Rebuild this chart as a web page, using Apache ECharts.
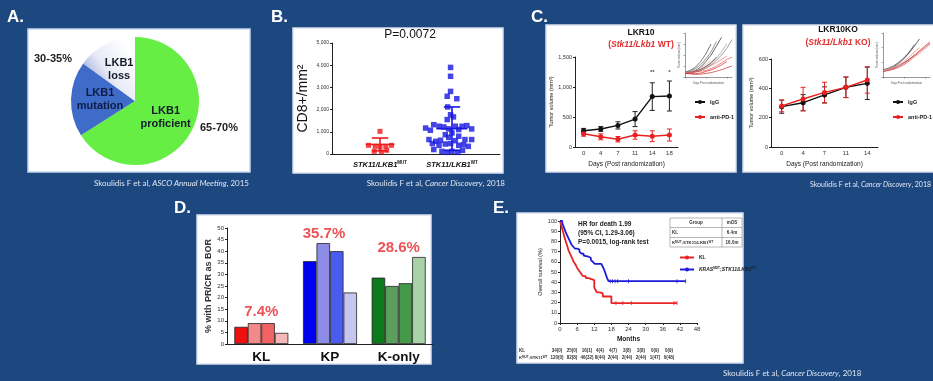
<!DOCTYPE html>
<html><head><meta charset="utf-8">
<script src="https://cdn.jsdelivr.net/npm/echarts@6/dist/echarts.min.js"></script>
<style>html,body{margin:0;padding:0;background:#1c477f;}#c{width:933px;height:381px;}</style>
</head><body><div id="c"></div>
<script>
// ---------- Panel A: pie ----------
const pieNames = ['LKB1\nproficient', 'LKB1\nmutation', 'LKB1\nloss'];
const pieValues = [66, 19, 15];

// ---------- Panel B: CD8+ scatter ----------
const bGroups = ['STK11/LKB1 MUT', 'STK11/LKB1 WT'];
const bGroupPos = [1, 2.5];
const bMutValues = [1020, 390, 345, 315, 345, 390, 120, 90, 165];
const bMutOffsets = [0, -0.24, -0.10, 0, 0.12, 0.24, -0.12, 0.03, 0.14];
const bWtValues = [3900, 3500, 2820, 2600, 2490, 2120, 1770, 1550, 1670, 1170, 1320, 1250, 1220, 1250, 1250, 1280, 1130, 1070, 1130, 1100, 950, 870, 750, 800, 650, 570, 620, 600, 650, 650, 470, 390, 450, 470, 390, 420, 345, 200, 120, 75, 120, 75, 165];
const bWtOffsets = [-0.03, -0.03, -0.03, -0.10, 0.10, -0.09, -0.03, -0.10, 0.03, -0.55, -0.38, -0.27, -0.17, 0.07, 0.21, 0.31, 0.41, -0.45, -0.07, 0.14, 0, -0.14, -0.07, 0.14, -0.48, -0.34, -0.24, 0.07, 0.27, 0.41, -0.41, -0.27, -0.14, -0.03, 0.14, 0.24, 0.34, -0.38, -0.21, -0.10, 0, 0.12, 0.22];
const bMeans = [430, 1140];
const bSDs = [290, 980];

// ---------- Panel C: tumour volume ----------
const cDaysWT = ['0', '4', '7', '11', '14', '18'];
const cIgGWT = [270, 300, 360, 465, 840, 850];
const cIgGWTErr = [40, 40, 60, 125, 230, 250];
const cPD1WT = [220, 170, 130, 200, 180, 200];
const cPD1WTErr = [40, 50, 45, 70, 90, 100];
const cSigWT = [[4, 1250, '**'], [5, 1250, '*']];
const cDaysKO = ['0', '4', '7', '11', '14'];
const cIgGKO = [275, 302, 355, 407, 434];
const cIgGKOErr = [45, 55, 55, 70, 110];
const cPD1KO = [280, 327, 372, 407, 457];
const cPD1KOErr = [40, 80, 70, 70, 90];
const insetDays = ['0', '3', '6', '9', '12', '15', '18', '21', '24', '27'];
const insetWTIgG = [
  [150, 200, 300, 450, 700, 1000, 1400, 1800],
  [200, 260, 380, 560, 820, 1150, 1600],
  [180, 220, 260, 330, 450, 620, 850, 1150, 1500],
  [220, 300, 450, 700, 1050, 1500],
  [160, 190, 230, 300, 400, 550, 750, 1000, 1300, 1700],
  [200, 230, 280, 350, 480, 650, 900]
];
const insetWTPD1 = [
  [180, 170, 150, 180, 250, 320, 420, 550, 700],
  [200, 190, 220, 300, 400, 520, 650, 800, 950],
  [170, 140, 120, 130, 160, 200, 260, 330, 420, 500],
  [210, 230, 300, 420, 580, 760],
  [190, 200, 240, 260, 300, 380, 500, 640, 800, 900]
];
const insetKOIgG = [
  [200, 260, 340, 460, 620, 820, 1050, 1300],
  [220, 250, 300, 380, 480, 600, 750],
  [180, 230, 290, 370, 470, 590],
  [250, 300, 380, 500, 650, 850, 1100]
];
const insetKOPD1 = [
  [200, 240, 300, 380, 480, 600, 740, 900, 1050, 1200],
  [230, 260, 320, 400, 520, 680, 850, 1000],
  [190, 220, 260, 330, 420, 540, 700, 860, 1000, 1150],
  [210, 250, 310, 380, 460, 560, 680, 800, 950, 1100]
];

// ---------- Panel D: response bars ----------
const dCategories = ['KL', 'KP', 'K-only'];
const dBar1 = [7.4, 35.7, 28.6];
const dBar2 = [9.0, 43.5, 25.0];
const dBar3 = [9.0, 40.0, 26.2];
const dBar4 = [4.8, 22.2, 37.5];
const dLabels = ['7.4%', '35.7%', '28.6%'];
const dLabelY = [13.8, 47.4, 41.4];

// ---------- Panel E: Kaplan-Meier ----------
const kmBlue = [[0,100],[0.8,98],[1.2,95],[1.6,92],[2,89],[2.5,86],[3,83],[3.5,80],[4,77],[4.6,75],[5.2,73],[6,72],[6.8,70],[7.5,68],[8.3,66],[9,65],[10,64],[10.8,62],[11.5,60],[12.2,58],[13,58],[14.5,58],[15,55],[15.5,52],[16,48],[16.5,44],[17,41],[44,41]];
const kmRed = [[0,100],[0.5,95],[1,90],[1.5,85],[2,80],[2.5,76],[3,71],[3.5,68],[4,65],[4.5,62],[5,59],[5.5,57],[6,54],[6.5,52],[7,50],[7.5,48],[8,46],[9,44],[10,43],[11,43],[11.5,42],[12,35],[12.5,32],[13,30],[14,29],[15,26],[17,26],[18,19.5],[41,19.5]];
const kmBlueCensor = [[17.6,41],[18.4,41],[19.3,41],[20.2,41],[24,41],[41,41],[44,41]];
const kmRedCensor = [[19.6,19.5],[22,19.5],[25,19.5],[40,19.5],[41,19.5]];
const riskKL = ['34(0)', '25(0)', '16(1)', '4(4)', '4(7)', '3(8)', '3(8)', '0(9)', '0(9)'];
const riskKP = ['120(0)', '82(8)', '46(32)', '8(44)', '2(44)', '2(44)', '2(44)', '1(47)', '0(48)'];

// ================================================================
const AR = 'Liberation Sans, Arial, sans-serif';
const CITE = 'Lato, "Open Sans", sans-serif';
const chart = echarts.init(document.getElementById('c'));

function errBar(color, cap) {
  return function (params, api) {
    const x = api.value(0), m = api.value(1), e = api.value(2);
    const t = api.coord([x, m + e]), b = api.coord([x, m - e]);
    const st = { stroke: color, lineWidth: 1 };
    return { type: 'group', children: [
      { type: 'line', shape: { x1: t[0], y1: t[1], x2: b[0], y2: b[1] }, style: st },
      { type: 'line', shape: { x1: t[0] - cap, y1: t[1], x2: t[0] + cap, y2: t[1] }, style: st },
      { type: 'line', shape: { x1: b[0] - cap, y1: b[1], x2: b[0] + cap, y2: b[1] }, style: st }
    ] };
  };
}
function meanSD(color, halfMean, halfCap) {
  return function (params, api) {
    const x = api.value(0), m = api.value(1), s = api.value(2);
    const lo = Math.max(m - s, 0);
    const pm1 = api.coord([x - halfMean, m]), pm2 = api.coord([x + halfMean, m]);
    const t1 = api.coord([x - halfCap, m + s]), t2 = api.coord([x + halfCap, m + s]);
    const b1 = api.coord([x - halfCap, lo]), b2 = api.coord([x + halfCap, lo]);
    const c1 = api.coord([x, m + s]), c2 = api.coord([x, lo]);
    const st = { stroke: color, lineWidth: 1.6 };
    return { type: 'group', children: [
      { type: 'line', shape: { x1: pm1[0], y1: pm1[1], x2: pm2[0], y2: pm2[1] }, style: st },
      { type: 'line', shape: { x1: c1[0], y1: c1[1], x2: c2[0], y2: c2[1] }, style: st },
      { type: 'line', shape: { x1: t1[0], y1: t1[1], x2: t2[0], y2: t2[1] }, style: st },
      { type: 'line', shape: { x1: b1[0], y1: b1[1], x2: b2[0], y2: b2[1] }, style: st }
    ] };
  };
}

const axLine = { lineStyle: { color: '#222', width: 1 } };
const tickLbl = (fs) => ({ fontSize: fs, color: '#333', fontFamily: AR, margin: 3 });

const grids = [
  { left: 332, top: 43, width: 168, height: 111 },   // 0 B
  { left: 575, top: 57, width: 103, height: 90 },    // 1 C left
  { left: 685, top: 33, width: 47, height: 44 },     // 2 C left inset
  { left: 771, top: 59, width: 107, height: 88 },    // 3 C right
  { left: 883, top: 33, width: 47, height: 44 },     // 4 C right inset
  { left: 227, top: 228, width: 206, height: 116 },  // 5 D
  { left: 560, top: 221, width: 137, height: 102 }   // 6 E
];

const xAxes = [
  { gridIndex: 0, type: 'value', min: 0, max: 3.5, interval: 0.5, axisLine: axLine, axisTick: { show: false }, splitLine: { show: false },
    axisLabel: { margin: 6, showMaxLabel: false, formatter: v => Math.abs(v - bGroupPos[0]) < 1e-6 ? '{i|STK11/LKB1}{s|MUT}' : (Math.abs(v - bGroupPos[1]) < 1e-6 ? '{i|STK11/LKB1}{s|WT}' : ''),
      rich: { i: { fontSize: 7.5, fontWeight: 'bold', fontStyle: 'italic', fontFamily: AR, color: '#111' }, s: { fontSize: 4.5, fontWeight: 'bold', fontFamily: AR, color: '#111', verticalAlign: 'top', padding: [0, 0, 5, 0] } } } },
  { gridIndex: 1, type: 'category', data: cDaysWT, axisLine: axLine, axisTick: { lineStyle: { color: '#222' }, length: 3, alignWithLabel: true }, axisLabel: tickLbl(6),
    name: 'Days (Post randomization)', nameLocation: 'middle', nameGap: 14, nameTextStyle: { fontSize: 6.5, fontFamily: AR, color: '#222' } },
  { gridIndex: 2, type: 'category', data: insetDays, boundaryGap: false, axisLine: { lineStyle: { color: '#555', width: 0.6 } }, axisTick: { length: 1.5, lineStyle: { color: '#555', width: 0.5 } }, axisLabel: { show: false },
    name: 'Days Post randomization', nameLocation: 'middle', nameGap: 5, nameTextStyle: { fontSize: 2.8, color: '#555' } },
  { gridIndex: 3, type: 'category', data: cDaysKO, axisLine: axLine, axisTick: { lineStyle: { color: '#222' }, length: 3, alignWithLabel: true }, axisLabel: tickLbl(6),
    name: 'Days (Post randomization)', nameLocation: 'middle', nameGap: 14, nameTextStyle: { fontSize: 6.5, fontFamily: AR, color: '#222' } },
  { gridIndex: 4, type: 'category', data: insetDays, boundaryGap: false, axisLine: { lineStyle: { color: '#555', width: 0.6 } }, axisTick: { length: 1.5, lineStyle: { color: '#555', width: 0.5 } }, axisLabel: { show: false },
    name: 'Days Post randomization', nameLocation: 'middle', nameGap: 5, nameTextStyle: { fontSize: 2.8, color: '#555' } },
  { gridIndex: 5, type: 'category', data: dCategories, axisLine: axLine, axisTick: { show: false },
    axisLabel: { fontSize: 13.5, fontWeight: 'bold', color: '#111', fontFamily: AR, margin: 6 } },
  { gridIndex: 6, type: 'value', min: 0, max: 48, interval: 6, axisLine: axLine, axisTick: { length: 2, lineStyle: { color: '#222' } }, splitLine: { show: false }, axisLabel: tickLbl(6),
    name: 'Months', nameLocation: 'middle', nameGap: 13, nameTextStyle: { fontSize: 6.5, fontWeight: 'bold', fontFamily: AR, color: '#222' } }
];

const yAxes = [
  { gridIndex: 0, type: 'value', min: 0, max: 5000, interval: 1000, axisLine: { show: true, lineStyle: { color: '#222' } }, axisTick: { show: true, length: 2, lineStyle: { color: '#222' } }, splitLine: { show: false }, axisLabel: tickLbl(5),
    name: 'CD8+/mm²', nameLocation: 'middle', nameGap: 22, nameTextStyle: { fontSize: 14, fontFamily: AR, color: '#111' } },
  { gridIndex: 1, type: 'value', min: 0, max: 1500, interval: 500, axisLine: { show: true, lineStyle: { color: '#222' } }, axisTick: { show: true, length: 2, lineStyle: { color: '#222' } }, splitLine: { show: false }, axisLabel: tickLbl(5.5),
    name: 'Tumor volume (mm³)', nameLocation: 'middle', nameGap: 17, nameTextStyle: { fontSize: 5.5, fontFamily: AR, color: '#222' } },
  { gridIndex: 2, type: 'value', min: 0, max: 2000, interval: 500, axisLine: { show: true, lineStyle: { color: '#555', width: 0.6 } }, axisTick: { show: true, length: 1.5, lineStyle: { color: '#555', width: 0.5 } }, splitLine: { show: false }, axisLabel: { show: false },
    name: 'Tumor volume (mm³)', nameLocation: 'middle', nameGap: 4, nameTextStyle: { fontSize: 2.8, color: '#555' } },
  { gridIndex: 3, type: 'value', min: 0, max: 600, interval: 200, axisLine: { show: true, lineStyle: { color: '#222' } }, axisTick: { show: true, length: 2, lineStyle: { color: '#222' } }, splitLine: { show: false }, axisLabel: tickLbl(5.5),
    name: 'Tumor volume (mm³)', nameLocation: 'middle', nameGap: 15, nameTextStyle: { fontSize: 5.5, fontFamily: AR, color: '#222' } },
  { gridIndex: 4, type: 'value', min: 0, max: 1500, interval: 500, axisLine: { show: true, lineStyle: { color: '#555', width: 0.6 } }, axisTick: { show: true, length: 1.5, lineStyle: { color: '#555', width: 0.5 } }, splitLine: { show: false }, axisLabel: { show: false },
    name: 'Tumor volume (mm³)', nameLocation: 'middle', nameGap: 4, nameTextStyle: { fontSize: 2.8, color: '#555' } },
  { gridIndex: 5, type: 'value', min: 0, max: 50, interval: 5, axisLine: { show: true, lineStyle: { color: '#222' } }, axisTick: { show: true, length: 2, lineStyle: { color: '#222' } }, splitLine: { show: false }, axisLabel: tickLbl(6),
    name: '% with PR/CR as BOR', nameLocation: 'middle', nameGap: 14, nameTextStyle: { fontSize: 9, fontWeight: 'bold', fontFamily: AR, color: '#333' } },
  { gridIndex: 6, type: 'value', min: 0, max: 100, interval: 10, axisLine: { show: true, lineStyle: { color: '#222' } }, axisTick: { show: true, length: 2, lineStyle: { color: '#222' } }, splitLine: { show: false }, axisLabel: tickLbl(5.5),
    name: 'Overall survival (%)', nameLocation: 'middle', nameGap: 13, nameTextStyle: { fontSize: 5.5, fontFamily: AR, color: '#222' } }
];

const series = [];
// A pie
series.push({
  type: 'pie', center: [135, 101], radius: 64, startAngle: 90, clockwise: true, silent: true, z: 5,
  label: { show: true, position: 'inside', fontSize: 11, fontWeight: 'bold', fontFamily: AR, lineHeight: 13, color: '#141c2c' },
  labelLine: { show: false },
  itemStyle: { borderWidth: 0 },
  data: pieNames.map((n, i) => ({
    name: n, value: pieValues[i],
    itemStyle: { color: [ '#66ee44', '#3f6cc8', { type: 'linear', x: 0.9, y: 0.2, x2: 0, y2: 0.7, colorStops: [{ offset: 0, color: '#ffffff' }, { offset: 0.55, color: '#e6eaf6' }, { offset: 1, color: '#8fa1d8' }] } ][i] },
    label: i === 1 ? { color: '#0e1d44' } : {}
  }))
});
// B scatter
series.push({ type: 'scatter', xAxisIndex: 0, yAxisIndex: 0, symbol: 'rect', symbolSize: 5, itemStyle: { color: '#ee1c1c' },
  data: bMutValues.map((v, i) => [bGroupPos[0] + bMutOffsets[i], v]) });
series.push({ type: 'scatter', xAxisIndex: 0, yAxisIndex: 0, symbol: 'rect', symbolSize: 5.5, itemStyle: { color: '#1717e0' },
  data: bWtValues.map((v, i) => [bGroupPos[1] + bWtOffsets[i], v]) });
series.push({ type: 'custom', xAxisIndex: 0, yAxisIndex: 0, renderItem: meanSD('#ee1c1c', 0.3, 0.17), data: [[bGroupPos[0], bMeans[0], bSDs[0]]], z: 4 });
series.push({ type: 'custom', xAxisIndex: 0, yAxisIndex: 0, renderItem: meanSD('#1717e0', 0.32, 0.17), data: [[bGroupPos[1], bMeans[1], bSDs[1]]], z: 4 });

// C left
series.push({ name: 'IgG', type: 'line', xAxisIndex: 1, yAxisIndex: 1, data: cIgGWT, symbol: 'circle', symbolSize: 5, lineStyle: { color: '#111', width: 1.4 }, itemStyle: { color: '#111' }, z: 4 });
series.push({ name: 'anti-PD-1', type: 'line', xAxisIndex: 1, yAxisIndex: 1, data: cPD1WT, symbol: 'circle', symbolSize: 5, lineStyle: { color: '#ea2020', width: 1.4 }, itemStyle: { color: '#ea2020' }, z: 4 });
series.push({ type: 'custom', xAxisIndex: 1, yAxisIndex: 1, renderItem: errBar('#222', 2.5), data: cIgGWT.map((v, i) => [i, v, cIgGWTErr[i]]), z: 3 });
series.push({ type: 'custom', xAxisIndex: 1, yAxisIndex: 1, renderItem: errBar('#ea2020', 2.5), data: cPD1WT.map((v, i) => [i, v, cPD1WTErr[i]]), z: 3 });
series.push({ type: 'scatter', xAxisIndex: 1, yAxisIndex: 1, symbolSize: 0, silent: true,
  label: { show: true, position: 'inside', formatter: p => p.data[2], fontSize: 6, color: '#222', fontWeight: 'bold' }, data: cSigWT });
insetWTIgG.forEach((arr, k) => series.push({ type: 'line', xAxisIndex: 2, yAxisIndex: 2, data: arr, symbol: 'none', silent: true,
  lineStyle: { width: 0.7, color: ['#222', '#666', '#999', '#444', '#777', '#333'][k] } }));
insetWTPD1.forEach((arr, k) => series.push({ type: 'line', xAxisIndex: 2, yAxisIndex: 2, data: arr, symbol: 'none', silent: true,
  lineStyle: { width: 0.7, color: ['#e02020', '#f07070', '#c03030', '#f0a0a0', '#e05050'][k] } }));

// C right
series.push({ name: 'IgG', type: 'line', xAxisIndex: 3, yAxisIndex: 3, data: cIgGKO, symbol: 'circle', symbolSize: 5, lineStyle: { color: '#111', width: 1.4 }, itemStyle: { color: '#111' }, z: 4 });
series.push({ name: 'anti-PD-1', type: 'line', xAxisIndex: 3, yAxisIndex: 3, data: cPD1KO, symbol: 'circle', symbolSize: 5, lineStyle: { color: '#ea2020', width: 1.4 }, itemStyle: { color: '#ea2020' }, z: 4 });
series.push({ type: 'custom', xAxisIndex: 3, yAxisIndex: 3, renderItem: errBar('#222', 2.5), data: cIgGKO.map((v, i) => [i, v, cIgGKOErr[i]]), z: 3 });
series.push({ type: 'custom', xAxisIndex: 3, yAxisIndex: 3, renderItem: errBar('#ea2020', 2.5), data: cPD1KO.map((v, i) => [i, v, cPD1KOErr[i]]), z: 3 });
insetKOIgG.forEach((arr, k) => series.push({ type: 'line', xAxisIndex: 4, yAxisIndex: 4, data: arr, symbol: 'none', silent: true,
  lineStyle: { width: 0.7, color: ['#222', '#666', '#999', '#444'][k] } }));
insetKOPD1.forEach((arr, k) => series.push({ type: 'line', xAxisIndex: 4, yAxisIndex: 4, data: arr, symbol: 'none', silent: true,
  lineStyle: { width: 0.7, color: ['#e02020', '#f07070', '#c03030', '#f0a0a0'][k] } }));

// D bars
const dColors = [
  ['#ee1010', '#0000f0', '#0a7a1c'],
  ['#f28a8a', '#8c8ce6', '#5c9e5c'],
  ['#f26464', '#4a5cf0', '#449a48'],
  ['#f4b8b8', '#c6c6f0', '#a8d2a8']
];
[dBar1, dBar2, dBar3, dBar4].forEach((arr, k) => series.push({
  type: 'bar', xAxisIndex: 5, yAxisIndex: 5, barWidth: 13.5, barGap: '0%',
  data: arr.map((v, i) => ({ value: v, itemStyle: { color: dColors[k][i], borderColor: '#222', borderWidth: 0.8 } }))
}));
series.push({ type: 'scatter', xAxisIndex: 5, yAxisIndex: 5, symbolSize: 0, silent: true, z: 6,
  label: { show: true, position: 'inside', formatter: p => p.data.value[2], fontSize: 15, fontWeight: 'bold', color: '#e8262b', fontFamily: AR },
  data: dLabels.map((t, i) => ({ value: [i, dLabelY[i], t], label: i === 1 ? { offset: [-6, 0] } : {} })) });

// E KM
series.push({ name: 'KL', type: 'line', step: 'end', xAxisIndex: 6, yAxisIndex: 6, data: kmRed, showSymbol: false, symbol: 'circle', symbolSize: 4,
  lineStyle: { color: '#e82424', width: 1.8 }, itemStyle: { color: '#e82424' } });
series.push({ name: 'KRAS-MUT;STK11/LKB1-WT', type: 'line', step: 'end', xAxisIndex: 6, yAxisIndex: 6, data: kmBlue, showSymbol: false, symbol: 'circle', symbolSize: 4,
  lineStyle: { color: '#1c1cd8', width: 1.8 }, itemStyle: { color: '#1c1cd8' } });
series.push({ type: 'scatter', xAxisIndex: 6, yAxisIndex: 6, symbol: 'rect', symbolSize: [1, 4], itemStyle: { color: '#1c1cd8' }, data: kmBlueCensor, silent: true });
series.push({ type: 'scatter', xAxisIndex: 6, yAxisIndex: 6, symbol: 'rect', symbolSize: [1, 4], itemStyle: { color: '#e82424' }, data: kmRedCensor, silent: true });

// ---------- graphic: panels, letters, citations, annotations ----------
const white = (x, y, w, h, stroke) => ({ type: 'rect', z: -10, shape: { x, y, width: w, height: h }, style: { fill: '#ffffff', stroke: stroke || '#d8e0f0', lineWidth: 1.5 }, silent: true });
const txt = (x, y, text, font, fill, align, extra) => ({ type: 'text', z: 100, x, y, silent: true,
  style: Object.assign({ text, font, fill, align: align || 'left', verticalAlign: 'middle' }, extra || {}) });
const citeRich = { n: { font: '8px ' + CITE, fill: '#e2e8f2' }, it: { font: 'italic 8px ' + CITE, fill: '#e2e8f2' } };
const citeRichS = { n: { font: '7px ' + CITE, fill: '#e2e8f2' }, it: { font: 'italic 7px ' + CITE, fill: '#e2e8f2' } };

const riskCols = [557, 572, 587, 600, 613, 627, 641, 655, 669];
const graphics = [
  white(28, 29, 222, 143, '#c8d6f0'),
  white(293, 28, 210, 145),
  white(546, 25, 190, 147),
  white(743, 25, 192, 147),
  white(197, 215, 234, 149),
  white(517, 213, 226, 150),
  txt(7, 17, 'A.', 'bold 17px ' + AR, '#ffffff'),
  txt(271, 17, 'B.', 'bold 17px ' + AR, '#ffffff'),
  txt(531, 17, 'C.', 'bold 17px ' + AR, '#ffffff'),
  txt(174, 208, 'D.', 'bold 17px ' + AR, '#ffffff'),
  txt(493, 208, 'E.', 'bold 17px ' + AR, '#ffffff'),
  { type: 'text', z: 100, x: 249, y: 183, silent: true, style: { text: '{n|Skoulidis F et al, }{it|ASCO Annual Meeting}{n|, 2015}', rich: citeRich, align: 'right', verticalAlign: 'middle' } },
  { type: 'text', z: 100, x: 505, y: 183, silent: true, style: { text: '{n|Skoulidis F et al, }{it|Cancer Discovery}{n|, 2018}', rich: citeRich, align: 'right', verticalAlign: 'middle' } },
  { type: 'text', z: 100, x: 810, y: 185, silent: true, style: { text: '{n|Skoulidis F et al, }{it|Cancer Discovery}{n|, 2018}', rich: citeRichS, align: 'left', verticalAlign: 'middle' } },
  { type: 'text', z: 100, x: 723, y: 373, silent: true, style: { text: '{n|Skoulidis F et al, }{it|Cancer Discovery}{n|, 2018}', rich: citeRich, align: 'left', verticalAlign: 'middle' } },
  txt(34, 59, '30-35%', 'bold 11px ' + AR, '#222'),
  txt(200, 128, '65-70%', 'bold 11px ' + AR, '#222'),
  txt(410, 35, 'P=0.0072', '12px ' + AR, '#111', 'center'),
  txt(641, 33, 'LKR10', 'bold 8.5px ' + AR, '#111', 'center'),
  { type: 'text', z: 100, x: 641, y: 45, silent: true, style: { text: '{p|(}{i|Stk11/Lkb1}{p| WT)}', align: 'center', verticalAlign: 'middle',
    rich: { p: { font: 'bold 8.5px ' + AR, fill: '#e23030' }, i: { font: 'italic bold 8.5px ' + AR, fill: '#e23030' } } } },
  txt(838, 30, 'LKR10KO', 'bold 8.5px ' + AR, '#111', 'center'),
  { type: 'text', z: 100, x: 838, y: 43, silent: true, style: { text: '{p|(}{i|Stk11/Lkb1}{p| KO)}', align: 'center', verticalAlign: 'middle',
    rich: { p: { font: 'bold 8.5px ' + AR, fill: '#e23030' }, i: { font: 'italic bold 8.5px ' + AR, fill: '#e23030' } } } },
  txt(578, 224, 'HR for death 1.99', 'bold 6.5px ' + AR, '#222'),
  txt(578, 233, '(95% CI, 1.29-3.06)', 'bold 6.5px ' + AR, '#222'),
  txt(578, 242, 'P=0.0015, log-rank test', 'bold 6.5px ' + AR, '#222'),
  { type: 'rect', z: 100, shape: { x: 670, y: 218, width: 72, height: 29 }, style: { fill: 'none', stroke: '#888', lineWidth: 0.6 }, silent: true },
  { type: 'line', z: 100, shape: { x1: 670, y1: 227.5, x2: 742, y2: 227.5 }, style: { stroke: '#888', lineWidth: 0.6 }, silent: true },
  { type: 'line', z: 100, shape: { x1: 670, y1: 237.5, x2: 742, y2: 237.5 }, style: { stroke: '#888', lineWidth: 0.6 }, silent: true },
  { type: 'line', z: 100, shape: { x1: 722, y1: 218, x2: 722, y2: 247 }, style: { stroke: '#888', lineWidth: 0.6 }, silent: true },
  txt(696, 223, 'Group', 'bold 4.5px ' + AR, '#333', 'center'),
  txt(732, 223, 'mOS', 'bold 4.5px ' + AR, '#333', 'center'),
  txt(672, 232.5, 'KL', 'bold 4.5px ' + AR, '#333'),
  txt(732, 232.5, '6.4m', 'bold 4.5px ' + AR, '#333', 'center'),
  { type: 'text', z: 100, x: 672, y: 242.5, silent: true, style: { text: '{a|K}{s|MUT}{a|;STK11/LKB1}{s|WT}', verticalAlign: 'middle',
    rich: { a: { font: 'bold 4.3px ' + AR, fill: '#333' }, s: { font: 'bold 3px ' + AR, fill: '#333', verticalAlign: 'top' } } } },
  txt(732, 242.5, '16.0m', 'bold 4.5px ' + AR, '#333', 'center'),
  txt(519, 351, 'KL', 'bold 4.5px ' + AR, '#333'),
  { type: 'text', z: 100, x: 519, y: 358, silent: true, style: { text: '{a|K}{s|MUT}{a|;STK11}{s|WT}', verticalAlign: 'middle',
    rich: { a: { font: 'bold 4.2px ' + AR, fill: '#333' }, s: { font: 'bold 3px ' + AR, fill: '#333', verticalAlign: 'top' } } } }
];
riskCols.forEach((x, i) => {
  graphics.push(txt(x, 351, riskKL[i], 'bold 4.5px ' + AR, '#333', 'center'));
  graphics.push(txt(x, 358, riskKP[i], 'bold 4.5px ' + AR, '#333', 'center'));
});

const legendText = { fontSize: 5.5, fontFamily: AR, color: '#222', fontWeight: 'bold' };
chart.setOption({
  animation: false,
  backgroundColor: '#1c477f',
  grid: grids,
  xAxis: xAxes,
  yAxis: yAxes,
  legend: [
    { left: 689, top: 94, orient: 'vertical', data: ['IgG', 'anti-PD-1'], itemWidth: 10, itemHeight: 5, itemGap: 9, textStyle: legendText, selectedMode: false },
    { left: 887, top: 94, orient: 'vertical', data: ['IgG', 'anti-PD-1'], itemWidth: 10, itemHeight: 5, itemGap: 9, textStyle: legendText, selectedMode: false },
    { left: 674, top: 250, orient: 'vertical', data: ['KL', 'KRAS-MUT;STK11/LKB1-WT'], itemWidth: 14, itemHeight: 5, itemGap: 7, selectedMode: false,
      formatter: n => n === 'KL' ? '{a|KL}' : '{i|KRAS}{s|MUT}{a|;}{i|STK11/LKB1}{s|WT}',
      textStyle: { fontSize: 5, color: '#222', rich: { a: { fontSize: 5, fontWeight: 'bold', color: '#222' }, i: { fontSize: 5, fontWeight: 'bold', fontStyle: 'italic', color: '#222' }, s: { fontSize: 3.2, fontWeight: 'bold', color: '#222', verticalAlign: 'top' } } } }
  ],
  graphic: { elements: graphics },
  series
});
</script>
</body></html>
